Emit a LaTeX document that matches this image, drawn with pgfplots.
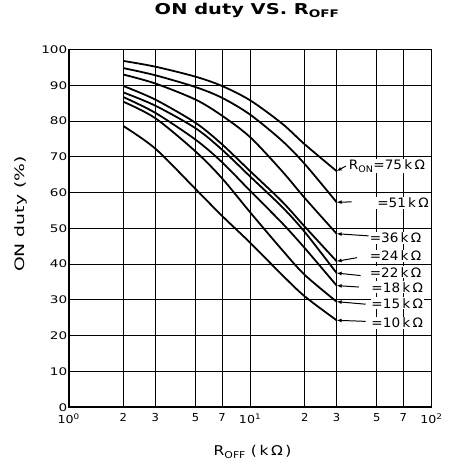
\documentclass[border=0pt]{standalone}
\usepackage{pgfplots}
\pgfplotsset{compat=1.18}
\usepackage{fontspec}
\setmainfont{DejaVu Sans}
\usetikzlibrary{arrows.meta}
\newcommand{\ext}[2][1.3]{\scalebox{#1}[1]{#2}}
\newcommand{\annfont}{\fontsize{13}{15}\selectfont}

\begin{document}
\begin{tikzpicture}
\begin{axis}[
  scale only axis, width=364pt, height=359pt,
  xmode=log, log basis x=10, xmin=1, xmax=100, ymin=0, ymax=100,
  xtick={1,2,3,5,7,10,20,30,50,70,100},
  xticklabels={\ext[1.15]{10\textsuperscript{0}},\ext[1.05]{2},\ext[1.05]{3},\ext[1.05]{5},\ext[1.05]{7},\ext[1.15]{10\textsuperscript{1}},\ext[1.05]{2},\ext[1.05]{3},\ext[1.05]{5},\ext[1.05]{7},\ext[1.15]{10\textsuperscript{2}}},
  ytick={0,10,20,30,40,50,60,70,80,90,100},
  yticklabels={\ext{0},\ext{10},\ext{20},\ext{30},\ext{40},\ext{50},\ext{60},\ext{70},\ext{80},\ext{90},\ext{100}},
  xminorticks=false,
  grid=major,
  major grid style={black, line width=1pt},
  axis line style={black, line width=1.8pt},
  major tick length=0pt, minor tick length=0pt,
  xticklabel style={font=\fontsize{11}{13}\selectfont, yshift=-3pt},
  yticklabel style={font=\fontsize{10.5}{12}\selectfont, xshift=2pt},
  title={\ext[1.3]{\bfseries ON duty VS. R\textsubscript{OFF}}},
  title style={at={(axis description cs:0.492,1.092)}, anchor=center, font=\fontsize{15}{17}\selectfont},
  xlabel={\ext[1.15]{R\textsubscript{OFF} (\,k\,Ω\,)}},
  xlabel style={at={(axis description cs:0.507,-0.125)}, anchor=center, font=\fontsize{13.5}{16}\selectfont},
  clip=false,
]
\addplot[black, line width=1.8pt, smooth] coordinates {(2,96.8)(3,95.2)(5,92.4)(7,89.8)(10,85.8)(15,79.3)(20,73.5)(30,66)};
\addplot[black, line width=1.8pt, smooth] coordinates {(2,94.8)(3,92.8)(5,89.5)(7,86.5)(10,81.8)(15,74.5)(20,68)(30,57.3)};
\addplot[black, line width=1.8pt, smooth] coordinates {(2,93)(3,90.5)(5,86)(7,81.5)(10,75.5)(15,66)(20,58.5)(30,48.5)};
\addplot[black, line width=1.8pt, smooth] coordinates {(2,89.8)(3,86)(5,79.5)(7,73.5)(10,66)(15,57.5)(20,50.5)(30,40.8)};
\addplot[black, line width=1.8pt, smooth] coordinates {(2,88)(3,84.3)(5,78)(7,72)(10,64.5)(15,56)(20,49)(30,37.5)};
\addplot[black, line width=1.8pt, smooth] coordinates {(2,86.7)(3,82.3)(5,74.8)(7,68.5)(10,60.5)(15,51.5)(20,44.5)(30,34)};
\addplot[black, line width=1.8pt, smooth] coordinates {(2,85.4)(3,80.8)(5,71.5)(7,64)(10,54.5)(15,44)(20,37)(30,29.5)};
\addplot[black, line width=1.8pt, smooth] coordinates {(2,78.6)(3,72.3)(5,61)(7,53.5)(10,46)(15,37)(20,31)(30,24.3)};

\tikzset{ann/.style={anchor=west, fill=white, inner sep=1pt, font=\annfont},
         arr/.style={-{Latex[length=5pt,width=4pt]}, line width=1pt}}
\draw[arr] (axis cs:33.7,67.4) -- (axis cs:30,66);
\draw[arr] (axis cs:36.3,57.4) -- (axis cs:30,57.3);
\draw[arr] (axis cs:45,47.9) -- (axis cs:30,48.5);
\draw[arr] (axis cs:38.8,41.8) -- (axis cs:30,40.8);
\draw[arr] (axis cs:40.7,36.8) -- (axis cs:30,37.5);
\draw[arr] (axis cs:39.8,33.6) -- (axis cs:30,34);
\draw[arr] (axis cs:43.4,28.8) -- (axis cs:30,29.5);
\draw[arr] (axis cs:43.4,24) -- (axis cs:30,24.3);
\node[ann] at (axis cs:34.5,67.4) {\ext[1.05]{R\textsubscript{ON}=75\,k\,Ω}};
\node[ann] at (axis cs:49.5,57.2) {\ext[1.05]{=51\,k\,Ω}};
\node[ann] at (axis cs:45,47.4) {\ext[1.05]{=36\,k\,Ω}};
\node[ann] at (axis cs:45,42.3) {\ext[1.05]{=24\,k\,Ω}};
\node[ann] at (axis cs:45,37.7) {\ext[1.05]{=22\,k\,Ω}};
\node[ann] at (axis cs:46,33.5) {\ext[1.05]{=18\,k\,Ω}};
\node[ann] at (axis cs:46,29.0) {\ext[1.05]{=15\,k\,Ω}};
\node[ann] at (axis cs:46,23.5) {\ext[1.05]{=10\,k\,Ω}};
\node[rotate=90, anchor=center, font=\fontsize{13}{15}\selectfont] at (axis description cs:-0.132,0.54) {\ext[1.45]{ON duty (\%)}};
\end{axis}
\path (current axis.south west) ++(-69pt,-63pt) rectangle ++(450pt,470pt);
\end{tikzpicture}
\end{document}
